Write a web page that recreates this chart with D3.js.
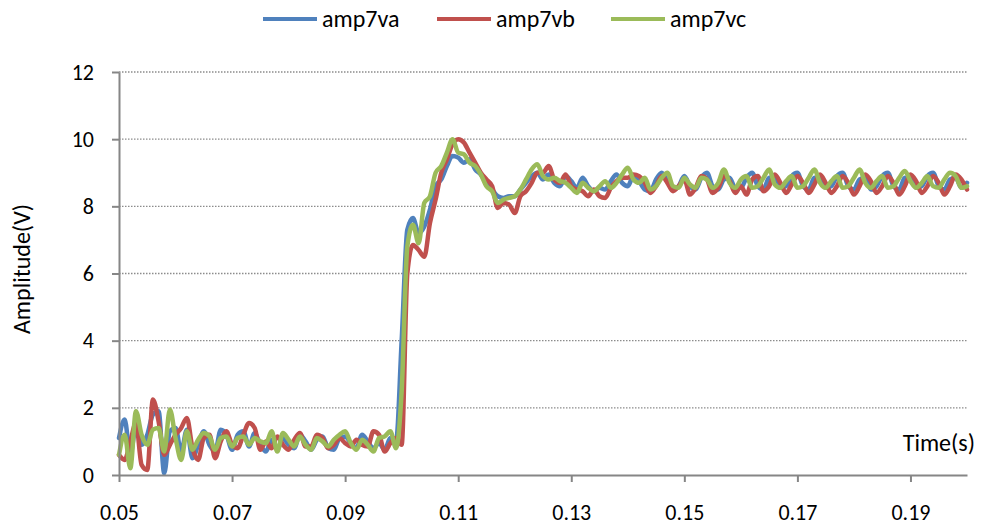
<!DOCTYPE html>
<html>
<head>
<meta charset="utf-8">
<script src="https://cdn.jsdelivr.net/npm/d3@7"></script>
<style>
  body { margin: 0; background: #fff; }
  text { font-family: Carlito, Calibri, Lato, sans-serif; fill: #000; }
</style>
</head>
<body>
<svg id="chart" width="981" height="529"></svg>
<script>
// sample times: 0.050 .. 0.200 s, one every millisecond
var tStart = 0.05, tStep = 0.001;

var amp7va = [
  1.1, 1.65, 0.6, 1.45, 0.9, 1.2, 1.8, 1.9, 0.05, 1.3,
  1.4, 0.7, 1.35, 0.5, 0.9, 1.3, 0.9, 0.7, 1.35, 1.2,
  0.75, 1.2, 1.3, 0.85, 1.25, 0.9, 0.7, 1.05, 0.75, 1.1,
  0.9, 0.8, 1.2, 1.0, 0.75, 1.05, 1.15, 0.8, 0.75, 1.1,
  1.15, 0.95, 0.8, 1.2, 1.0, 0.8, 0.95, 0.75, 1.1, 1.0,
  4.0, 7.3, 7.65, 7.2, 7.4, 7.9, 8.6, 8.8, 9.2, 9.5,
  9.45, 9.3, 9.4, 9.1, 8.95, 8.7, 8.5, 8.3, 8.25, 8.3,
  8.3, 8.5, 8.7, 8.9, 9.0, 8.8, 8.95, 8.7, 8.6, 8.9,
  8.75, 8.55, 8.85, 8.6, 8.45, 8.55, 8.5, 8.75, 8.95, 8.7,
  8.6, 8.9, 8.75, 8.5, 8.45, 8.8, 9.0, 8.75, 8.5, 8.6,
  8.9, 8.6, 8.5, 8.85, 9.0, 8.6, 8.5, 8.8, 8.85, 8.55,
  8.55, 8.85, 9.0, 8.6, 8.5, 8.85, 8.85, 8.55, 8.6, 8.9,
  9.0, 8.6, 8.5, 8.85, 8.85, 8.55, 8.6, 8.9, 9.0, 8.6,
  8.5, 8.8, 8.85, 8.5, 8.6, 8.9, 9.0, 8.6, 8.5, 8.85,
  8.85, 8.55, 8.6, 8.9, 9.0, 8.6, 8.5, 8.8, 8.85, 8.55,
  8.7
];

var amp7vb = [
  0.6, 0.45, 1.0, 1.55, 0.3, 0.15, 2.25, 1.6, 0.6, 0.9,
  1.2, 1.4, 1.7, 0.8, 0.45, 1.1, 1.2, 0.5, 1.0, 1.3,
  0.9, 0.8, 1.2, 1.55, 1.4, 0.75, 1.0, 0.8, 1.15, 0.9,
  0.75, 1.05, 1.25, 0.85, 0.85, 1.2, 1.1, 0.8, 0.9, 1.1,
  0.95, 0.85, 1.05, 0.9, 0.85, 1.3, 1.2, 0.7, 0.95, 1.1,
  0.9, 6.0, 6.85, 6.7, 6.5, 7.5, 8.2, 9.0, 9.4, 9.85,
  10.0, 9.9, 9.6, 9.3, 9.0, 8.8, 8.6, 7.95, 8.1, 8.05,
  7.8, 8.3, 8.45, 8.7, 9.0, 9.0, 9.2, 8.8, 8.7, 8.95,
  8.6, 8.5, 8.45, 8.3, 8.5, 8.3, 8.25, 8.55, 8.75, 8.85,
  8.85, 8.95, 8.9, 8.7, 8.4, 8.6, 8.9, 8.7, 8.45, 8.6,
  8.8, 8.35, 8.55, 8.9, 8.8, 8.4, 8.55, 8.9, 8.75, 8.4,
  8.6, 8.35, 8.8, 8.9, 8.45, 8.6, 8.95, 8.7, 8.4, 8.65,
  8.9, 8.7, 8.4, 8.65, 8.95, 8.7, 8.4, 8.6, 8.9, 8.7,
  8.35, 8.6, 8.95, 8.75, 8.4, 8.6, 8.9, 8.7, 8.35, 8.6,
  8.95, 8.75, 8.4, 8.6, 8.9, 8.7, 8.35, 8.6, 8.95, 8.8,
  8.5
];

var amp7vc = [
  0.6, 1.2, 0.2, 1.9, 1.2, 0.9, 1.35, 1.4, 0.7, 1.95,
  1.1, 0.45, 1.3, 0.75, 1.05, 1.25, 1.15, 0.75, 1.1, 1.15,
  0.85, 1.1, 1.15, 0.9, 1.1, 1.0, 0.95, 1.3, 0.7, 1.25,
  1.05, 0.85, 1.15, 0.9, 0.75, 1.1, 1.0, 0.85, 1.05, 1.2,
  1.3, 0.95, 0.75, 1.05, 0.9, 0.7, 1.1, 1.15, 1.3, 0.8,
  2.5, 6.8, 7.45, 6.9, 8.1, 8.3, 9.0, 9.2, 9.6, 10.0,
  9.6, 9.55, 9.3, 9.2, 8.95, 8.6, 8.45, 8.1, 8.2, 8.25,
  8.3, 8.5, 8.8, 9.1, 9.25, 8.9, 8.8, 8.85, 8.75, 8.7,
  8.55, 8.4, 8.7, 8.55, 8.45, 8.6, 8.75, 8.55, 8.7, 8.95,
  9.15, 8.8, 8.7, 8.85, 8.5, 8.6, 8.85, 9.0, 8.6, 8.55,
  8.85, 8.65, 8.55, 8.85, 8.8, 8.55, 8.7, 9.1, 8.7, 8.55,
  8.8, 8.9, 8.55, 8.6, 8.85, 9.1, 8.65, 8.55, 8.75, 8.9,
  8.55, 8.6, 8.85, 9.1, 8.7, 8.55, 8.75, 8.9, 8.55, 8.6,
  8.85, 9.1, 8.7, 8.55, 8.75, 8.9, 8.55, 8.6, 8.85, 9.05,
  8.75, 8.55, 8.7, 8.9, 8.6, 8.55, 8.8, 9.0, 8.9, 8.55,
  8.6
];

var seriesNames = ['amp7va', 'amp7vb', 'amp7vc'];
var seriesColors = ['#4f81bd', '#c0504d', '#9bbb59'];
var xTicks = [0.05, 0.07, 0.09, 0.11, 0.13, 0.15, 0.17, 0.19];
var yTicks = [0, 2, 4, 6, 8, 10, 12];

var svg = d3.select('#chart');
var plot = {left: 119, right: 967, top: 72, bottom: 475};

var x = d3.scaleLinear().domain([0.05, 0.2]).range([plot.left, plot.right]);
var y = d3.scaleLinear().domain([0, 12]).range([plot.bottom, plot.top]);

// dotted gridlines
svg.append('g')
  .selectAll('line')
  .data(yTicks.filter(d => d > 0))
  .join('line')
  .attr('x1', plot.left)
  .attr('x2', plot.right)
  .attr('y1', d => y(d))
  .attr('y2', d => y(d))
  .attr('stroke', '#8c8c8c')
  .attr('stroke-width', 1.3)
  .attr('stroke-dasharray', '1.5,1.5');

// series
var line = d3.line()
  .x((d, i) => x(tStart + i * tStep))
  .y(d => y(d))
  .curve(d3.curveMonotoneX);

[amp7va, amp7vb, amp7vc].forEach((s, k) => {
  svg.append('path')
    .datum(s)
    .attr('fill', 'none')
    .attr('stroke', seriesColors[k])
    .attr('stroke-width', 4.5)
    .attr('stroke-linejoin', 'round')
    .attr('stroke-linecap', 'round')
    .attr('d', line);
});

// axes
var xAxis = d3.axisBottom(x).tickValues(xTicks).tickFormat(d3.format('.2f'))
  .tickSize(7).tickSizeOuter(0).tickPadding(22);
var yAxis = d3.axisLeft(y).tickValues(yTicks).tickFormat(d3.format('d'))
  .tickSize(7).tickSizeOuter(0).tickPadding(18);

var gx = svg.append('g').attr('transform', `translate(0,${plot.bottom})`).call(xAxis);
var gy = svg.append('g').attr('transform', `translate(${plot.left},0)`).call(yAxis);

[gx, gy].forEach(g => {
  g.select('.domain').attr('stroke', '#868686').attr('stroke-width', 2);
  g.selectAll('.tick line').attr('stroke', '#868686').attr('stroke-width', 2);
  g.selectAll('.tick text').attr('font-size', 22).attr('fill', '#000')
    .attr('font-family', 'Carlito, Calibri, Lato, sans-serif');
});

// axis titles
svg.append('text')
  .attr('transform', 'translate(30,269) rotate(-90)')
  .attr('text-anchor', 'middle')
  .attr('font-size', 24)
  .text('Amplitude(V)');

svg.append('text')
  .attr('x', 975)
  .attr('y', 451)
  .attr('text-anchor', 'end')
  .attr('font-size', 24)
  .text('Time(s)');

// legend
var legend = svg.append('g')
  .selectAll('g')
  .data(seriesNames)
  .join('g')
  .attr('transform', (d, i) => `translate(${263 + i * 174},19)`);

legend.append('line')
  .attr('x1', 0).attr('x2', 54)
  .attr('stroke', (d, i) => seriesColors[i])
  .attr('stroke-width', 4);

legend.append('text')
  .attr('x', 59)
  .attr('y', 8)
  .attr('font-size', 24)
  .text(d => d);
</script>
</body>
</html>
